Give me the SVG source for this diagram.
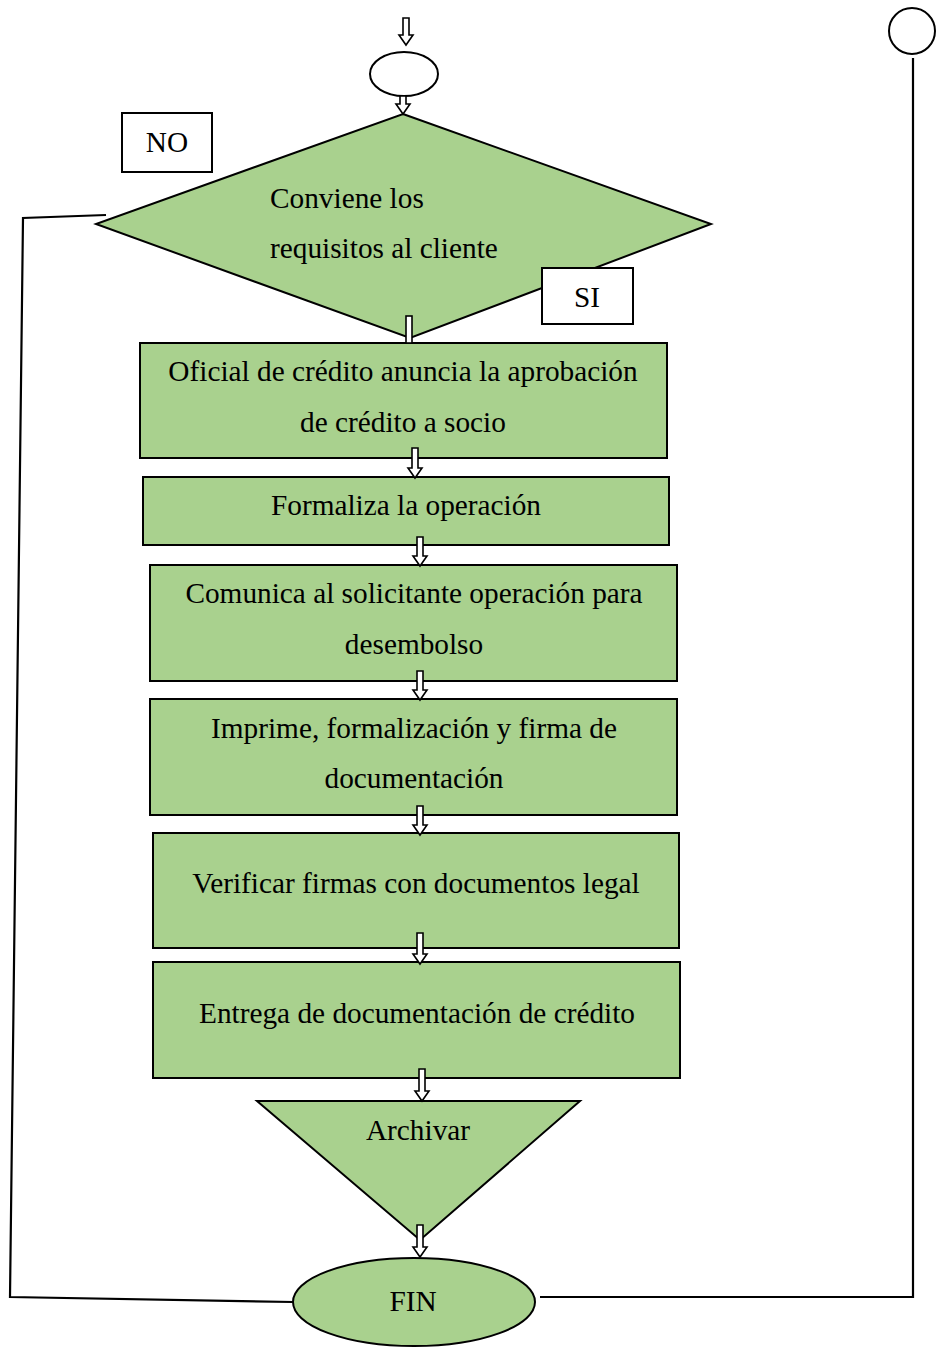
<svg xmlns="http://www.w3.org/2000/svg" width="937" height="1349" viewBox="0 0 937 1349">
<style>
.n{fill:#a9d18e;stroke:#000;stroke-width:2}
.w{fill:#fff;stroke:#000;stroke-width:2}
.t{font-family:"Liberation Serif","Times New Roman",serif;font-size:29.3px;fill:#000}
.c{text-anchor:middle}
.ln{fill:none;stroke:#000;stroke-width:2.2}
.ar{fill:#fff;stroke:#000;stroke-width:1.6}
</style>
<rect width="937" height="1349" fill="#fff"/>
<g id="start"><ellipse class="w" cx="404" cy="74" rx="34" ry="22"/></g>
<g id="connector-circle"><circle class="w" cx="912" cy="31" r="23"/></g>
<g id="decision">
<polygon class="n" points="403,114 711,224 410,338 96,224"/>
<text class="t" x="270" y="208">Conviene los</text>
<text class="t" x="270" y="258">requisitos al cliente</text>
</g>
<g id="label-no"><rect class="w" x="122" y="113" width="90" height="59"/><text class="t c" x="167" y="152">NO</text></g>
<g id="label-si"><rect class="w" x="542" y="268" width="91" height="56"/><text class="t c" x="587" y="307">SI</text></g>
<g id="box1"><rect class="n" x="140" y="343" width="527" height="115"/>
<text class="t c" x="403" y="381">Oficial de crédito anuncia la aprobación</text>
<text class="t c" x="403" y="432">de crédito a socio</text></g>
<g id="box2"><rect class="n" x="143" y="477" width="526" height="68"/>
<text class="t c" x="406" y="515">Formaliza la operación</text></g>
<g id="box3"><rect class="n" x="150" y="565" width="527" height="116"/>
<text class="t c" x="414" y="603">Comunica al solicitante operación para</text>
<text class="t c" x="414" y="654">desembolso</text></g>
<g id="box4"><rect class="n" x="150" y="699" width="527" height="116"/>
<text class="t c" x="414" y="738">Imprime, formalización y firma de</text>
<text class="t c" x="414" y="788">documentación</text></g>
<g id="box5"><rect class="n" x="153" y="833" width="526" height="115"/>
<text class="t c" x="416" y="893">Verificar firmas con documentos legal</text></g>
<g id="box6"><rect class="n" x="153" y="962" width="527" height="116"/>
<text class="t c" x="417" y="1023">Entrega de documentación de crédito</text></g>
<g id="archivar"><polygon class="n" points="257,1101 580,1101 420,1240"/>
<text class="t c" x="418" y="1140">Archivar</text></g>
<g id="fin"><ellipse class="n" cx="414" cy="1302" rx="121" ry="44"/>
<text class="t c" x="413" y="1311">FIN</text></g>
<g id="connectors">
<polyline class="ln" points="106,215 23,218 10,1297 293,1302"/>
<polyline class="ln" points="913,58 913,1297 540,1297"/>
<path class="ar" d="M403,18 H409 V35 H413 L406,45 L399,35 H403 Z"/>
<path class="ar" d="M400,96 H406 V104 H410 L403,114 L396,104 H400 Z"/>
<rect class="ar" x="406" y="316" width="6" height="27"/>
<path class="ar" d="M412,448 H418 V468 H422 L415,478 L408,468 H412 Z"/>
<path class="ar" d="M417,537 H423 V556 H427 L420,566 L413,556 H417 Z"/>
<path class="ar" d="M417,671 H423 V690 H427 L420,700 L413,690 H417 Z"/>
<path class="ar" d="M417,806 H423 V825 H427 L420,835 L413,825 H417 Z"/>
<path class="ar" d="M417,933 H423 V954 H427 L420,964 L413,954 H417 Z"/>
<path class="ar" d="M419,1069 H425 V1091 H429 L422,1101 L415,1091 H419 Z"/>
<path class="ar" d="M417,1225 H423 V1247 H427 L420,1257 L413,1247 H417 Z"/>
</g>
</svg>
